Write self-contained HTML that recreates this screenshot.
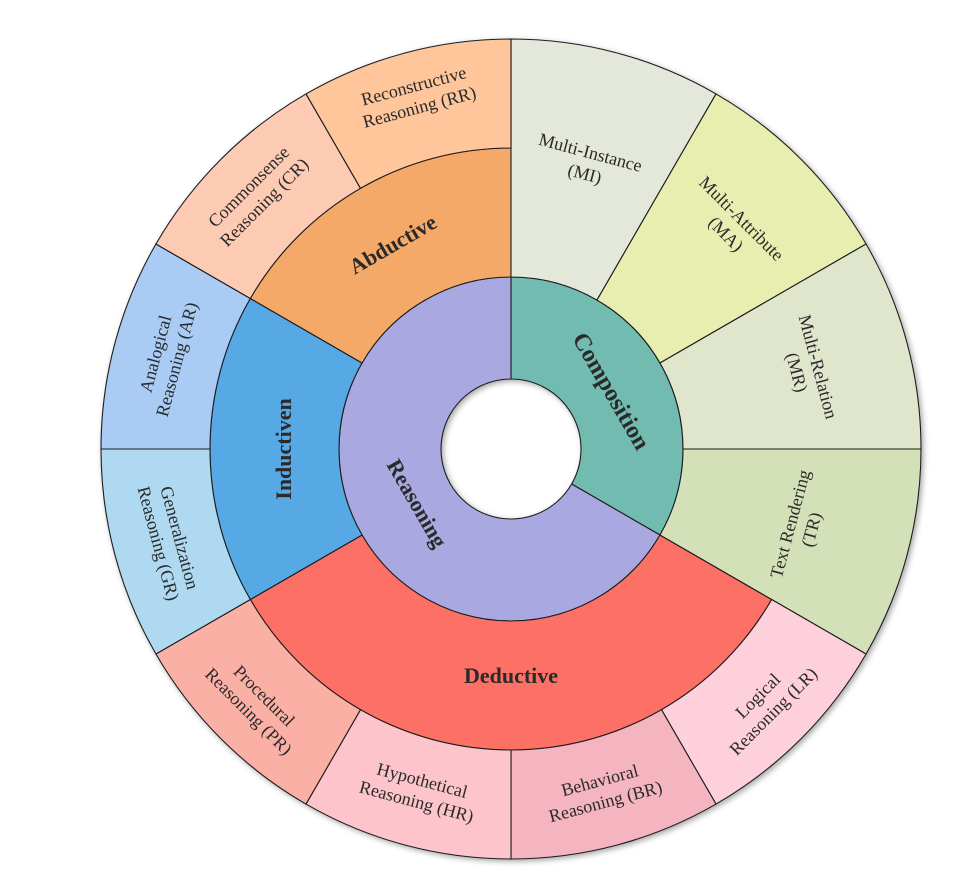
<!DOCTYPE html>
<html><head><meta charset="utf-8"><style>
html,body{margin:0;padding:0;background:#fff;width:963px;height:875px;overflow:hidden}
svg{display:block}
text{font-family:"Liberation Serif",serif;fill:#2a2a2a}
.o{font-size:18px}
.m{font-size:22px;font-weight:bold}
</style></head><body>
<svg id="s" width="963" height="875" viewBox="0 0 963 875">
<defs><filter id="sh" x="-20%" y="-20%" width="140%" height="140%"><feDropShadow dx="2" dy="2" stdDeviation="3" flood-color="#000" flood-opacity="0.35"/></filter></defs>
<g id="segs" filter="url(#sh)"></g>
<g transform="translate(511,449)">
<g transform="rotate(15) translate(0,-296)"><text class="o" text-anchor="middle"><tspan x="0" y="-5">Multi-Instance</tspan><tspan x="0" y="17">(MI)</tspan></text></g>
<g transform="rotate(45) translate(0,-315)"><text class="o" text-anchor="middle"><tspan x="0" y="-5">Multi-Attribute</tspan><tspan x="0" y="17">(MA)</tspan></text></g>
<g transform="rotate(75) translate(0,-307)"><text class="o" text-anchor="middle"><tspan x="0" y="-5">Multi-Relation</tspan><tspan x="0" y="17">(MR)</tspan></text></g>
<g transform="rotate(105) translate(0,-300) rotate(180)"><text class="o" text-anchor="middle"><tspan x="0" y="-5">Text Rendering</tspan><tspan x="0" y="17">(TR)</tspan></text></g>
<g transform="rotate(135) translate(0,-360) rotate(180)"><text class="o" text-anchor="middle"><tspan x="0" y="-5">Logical</tspan><tspan x="0" y="17">Reasoning (LR)</tspan></text></g>
<g transform="rotate(165) translate(0,-354) rotate(180)"><text class="o" text-anchor="middle"><tspan x="0" y="-5">Behavioral</tspan><tspan x="0" y="17">Reasoning (BR)</tspan></text></g>
<g transform="rotate(195) translate(0,-354) rotate(180)"><text class="o" text-anchor="middle"><tspan x="0" y="-5">Hypothetical</tspan><tspan x="0" y="17">Reasoning (HR)</tspan></text></g>
<g transform="rotate(225) translate(0,-360) rotate(180)"><text class="o" text-anchor="middle"><tspan x="0" y="-5">Procedural</tspan><tspan x="0" y="17">Reasoning (PR)</tspan></text></g>
<g transform="rotate(255) translate(0,-354) rotate(180)"><text class="o" text-anchor="middle"><tspan x="0" y="-5">Generalization</tspan><tspan x="0" y="17">Reasoning (GR)</tspan></text></g>
<g transform="rotate(285) translate(0,-357)"><text class="o" text-anchor="middle"><tspan x="0" y="-5">Analogical</tspan><tspan x="0" y="17">Reasoning (AR)</tspan></text></g>
<g transform="rotate(315) translate(0,-360)"><text class="o" text-anchor="middle"><tspan x="0" y="-5">Commonsense</tspan><tspan x="0" y="17">Reasoning (CR)</tspan></text></g>
<g transform="rotate(345) translate(0,-365)"><text class="o" text-anchor="middle"><tspan x="0" y="-5">Reconstructive</tspan><tspan x="0" y="17">Reasoning (RR)</tspan></text></g>
<g transform="rotate(330) translate(0,-236)"><text class="m" text-anchor="middle" y="7">Abductive</text></g>
<g transform="rotate(270) translate(0,-227)"><text class="m" text-anchor="middle" y="7">Inductiven</text></g>
<g transform="rotate(180) translate(0,-227) rotate(180)"><text class="m" text-anchor="middle" y="7">Deductive</text></g>
<g transform="rotate(60) translate(0,-116)"><text class="m" text-anchor="middle" y="8" style="font-size:24px">Composition</text></g>
<g transform="rotate(240) translate(0,-108) rotate(180)"><text class="m" text-anchor="middle" y="8" style="font-size:22px">Reasoning</text></g>
</g>
</svg>
<script>
(function(){
var cx=511,cy=449;
function p(a,r){var t=a*Math.PI/180;return [cx+r*Math.sin(t),cy-r*Math.cos(t)];}
function sec(a0,a1,r0,r1){
 var A=p(a0,r1),B=p(a1,r1),C=p(a1,r0),D=p(a0,r0),L=(a1-a0)>180?1:0;
 return "M"+A+" A"+r1+","+r1+" 0 "+L+" 1 "+B+" L"+C+" A"+r0+","+r0+" 0 "+L+" 0 "+D+" Z";
}
var S=[
[0,120,70,172,"#72bbb0"],[120,360,70,172,"#a9a8e0"],
[120,240,172,301,"#fd7066"],[240,300,172,301,"#57a9e4"],[300,360,172,301,"#f5a968"],
[0,30,172,410,"#e3e8da"],[30,60,172,410,"#e8eeb0"],[60,90,172,410,"#dfe6cb"],[90,120,172,410,"#d3e0b8"],
[120,150,301,410,"#fdd0dc"],[150,180,301,410,"#f5b5c0"],[180,210,301,410,"#fdc4cc"],[210,240,301,410,"#fbb0a6"],
[240,270,301,410,"#aed9f1"],[270,300,301,410,"#a9cbf4"],[300,330,301,410,"#fdcbb4"],[330,360,301,410,"#fec69a"]];
var g=document.getElementById("segs"),h="";
S.forEach(function(s){h+='<path d="'+sec(s[0],s[1],s[2],s[3])+'" fill="'+s[4]+'" stroke="#1e1e1e" stroke-width="1.1" stroke-linejoin="round"/>';});
g.innerHTML=h;
})();
</script>
</body></html>
